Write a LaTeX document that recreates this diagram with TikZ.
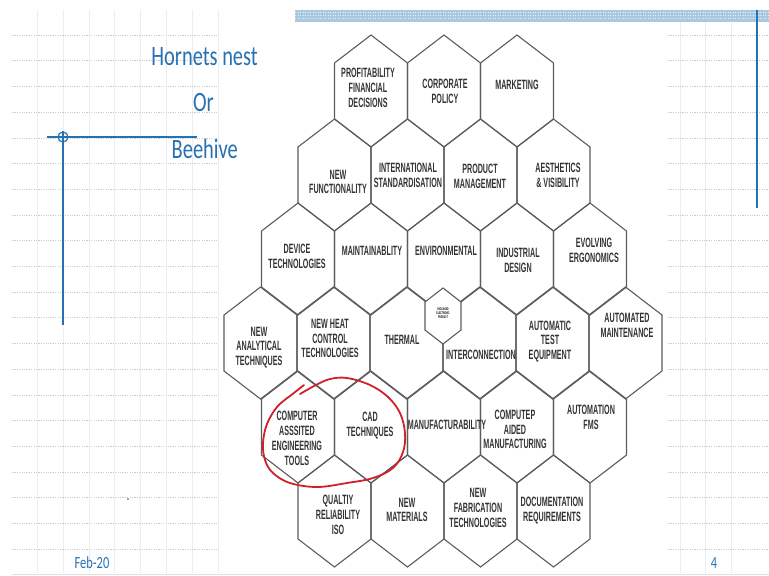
\documentclass[tikz,border=0pt]{standalone}
\usepackage{fontspec}
\setmainfont{Liberation Sans}
\newfontfamily\hexfont[FakeStretch=0.53]{Liberation Sans Bold}
\newfontfamily\titlefont[FakeStretch=0.73]{Carlito}
\definecolor{slideblue}{HTML}{2671B2}
\definecolor{barblue}{HTML}{A9C9E0}
\definecolor{hexgray}{HTML}{5C5C5C}
\definecolor{inkred}{HTML}{D0202A}
\begin{document}
\begin{tikzpicture}[x=1pt,y=-1pt,
  hexline/.style={draw=hexgray, line width=1.1pt, line join=miter},
  hx/.style={inner sep=0pt, align=center, text=black!80, font=\hexfont\fontsize{13.5}{14.8}\selectfont},
  tiny/.style={inner sep=0pt, align=center, text=black, font=\hexfont\fontsize{3.8}{4.2}\selectfont},
  ttl/.style={inner sep=0pt, text=slideblue, font=\titlefont\fontsize{28}{30}\selectfont},
  foot/.style={inner sep=0pt, text=slideblue, font=\titlefont\fontsize{17}{19}\selectfont},
  gridv/.style={draw=black!7, line width=0.5pt},
  gridh/.style={draw=black!20, line width=0.5pt, dash pattern=on 1.2pt off 1.2pt},
  blueline/.style={draw=slideblue, line width=1.4pt},
  redpen/.style={draw=inkred, line width=1.8pt, line cap=round, line join=round}]
\useasboundingbox (0,0) rectangle (769,576);
\fill[white] (0,0) rectangle (769,576);
% background grid
\foreach \gx in {37.3,63.1,88.9,114.7,140.5,166.3,192.1,217.9} \draw[gridv] (\gx,10) -- (\gx,573);
\foreach \gx in {680,705.5,731} \draw[gridv] (\gx,22) -- (\gx,573);
\foreach \gy in {35,60.7,86.4,112.1,137.8,163.5,189.2,214.9,240.6,266.3,292,317.7,343.4,369.1,394.8,420.5,446.2,471.9,497.6,523.3,549} {
  \draw[gridh] (12,\gy) -- (218,\gy);
  \draw[gridh] (668,\gy) -- (769,\gy);
}
\draw[black!12, line width=0.6pt] (12,574) -- (769,574);
% top bar
\fill[barblue] (295,10) rectangle (769,22);
\foreach \by in {12.5,15.5,18.5} \draw[white!70!barblue, line width=0.6pt, dash pattern=on 1pt off 1.5pt] (295,\by) -- (769,\by);
% blue decorations
\draw[blueline] (757,10) -- (757,208);
\draw[blueline] (47,137) -- (197,137);
\draw[slideblue, line width=1.2pt] (63,137) circle[radius=5pt];
\draw[blueline] (63,131) -- (63,325);
% titles
\node[ttl, anchor=east] (t1) at (258,57) {Hornets nest};
\node[ttl, anchor=east] (t2) at (214,103) {Or};
\node[ttl, anchor=east] (t3) at (238,149) {Beehive};
\node[foot] (date) at (92,563) {Feb-20};
\node[foot] (page) at (714,563) {4};
\fill[inkred!80!black] (128,499) circle[radius=0.8pt];
% hexagons
\foreach \cx/\cy in {
  371/91, 444/91, 517/91,
  334.5/175, 407.5/175, 480.5/175, 553.5/175,
  298/259, 371/259, 444/259, 517/259, 590/259,
  260.5/343, 333.5/343, 406.5/343, 479.5/343, 552.5/343, 625.5/343,
  298/427, 371/427, 444/427, 517/427, 590/427,
  334.5/511, 407.5/511, 480.5/511, 553.5/511}
  \draw[hexline] (\cx,\cy-56) -- ++(36.5,28) -- ++(0,56) -- ++(-36.5,28) -- ++(-36.5,-28) -- ++(0,-56) -- cycle;
% small hex
\filldraw[hexline, fill=white] (443,288) -- ++(18,14) -- ++(0,28) -- ++(-18,14) -- ++(-18,-14) -- ++(0,-28) -- cycle;
\node[tiny] (pep) at (443,313) {PACKAGED\\ELECTRONIC\\PRODUCT};
% labels
\node[hx] (prof) at (368,88) {PROFITABILITY\\FINANCIAL\\DECISIONS};
\node[hx] (corp) at (445,91) {CORPORATE\\POLICY};
\node[hx] (mark) at (517,85) {MARKETING};
\node[hx] (nfun) at (338,182) {NEW\\FUNCTIONALITY};
\node[hx] (intl) at (408,175) {INTERNATIONAL\\STANDARDISATION};
\node[hx] (prod) at (480,176) {PRODUCT\\MANAGEMENT};
\node[hx] (aest) at (558,175.5) {AESTHETICS\\\& VISIBILITY};
\node[hx] (dev) at (297,256) {DEVICE\\TECHNOLOGIES};
\node[hx] (maint) at (372,251) {MAINTAINABLITY};
\node[hx] (env) at (446,251) {ENVIRONMENTAL};
\node[hx] (ind) at (518,260) {INDUSTRIAL\\DESIGN};
\node[hx] (evo) at (594,250) {EVOLVING\\ERGONOMICS};
\node[hx] (anal) at (259,347.5) {NEW\\ANALYTICAL\\TECHNIQUES};
\node[hx] (heat) at (330,338.5) {NEW HEAT\\CONTROL\\TECHNOLOGIES};
\node[hx] (therm) at (402,340) {THERMAL};
\node[hx] (inter) at (481,355) {INTERCONNECTION};
\node[hx] (ate) at (550,341.5) {AUTOMATIC\\TEST\\EQUIPMENT};
\node[hx] (amaint) at (627,325.5) {AUTOMATED\\MAINTENANCE};
\node[hx] (cae) at (297,438.5) {COMPUTER\\ASSSITED\\ENGINEERING\\TOOLS};
\node[hx] (cad) at (370,426) {CAD\\TECHNIQUES};
\node[hx] (manu) at (447,425) {MANUFACTURABILITY};
\node[hx] (cam) at (515,429.5) {COMPUTEP\\AIDED\\MANUFACTURING};
\node[hx] (fms) at (591,417.5) {AUTOMATION\\FMS};
\node[hx] (qual) at (338,515) {QUALTIY\\RELIABILITY\\ISO};
\node[hx] (mat) at (407,510) {NEW\\MATERIALS};
\node[hx] (fab) at (478,508) {NEW\\FABRICATION\\TECHNOLOGIES};
\node[hx] (doc) at (552,510.5) {DOCUMENTATION\\REQUIREMENTS};
% red hand-drawn loop
\draw[redpen] (304,385) -- (290,396) -- plot[smooth, tension=0.6] coordinates {(290,396) (277,407) (267,424) (263,443) (265,460) (273,473) (290,483) (317,487) (347,483) (373,478) (393,468) (403,452) (405,433) (400,413) (388,397) (370,385) (347,378) (330,379) (316,385) (300,394)};
\end{tikzpicture}
\end{document}
